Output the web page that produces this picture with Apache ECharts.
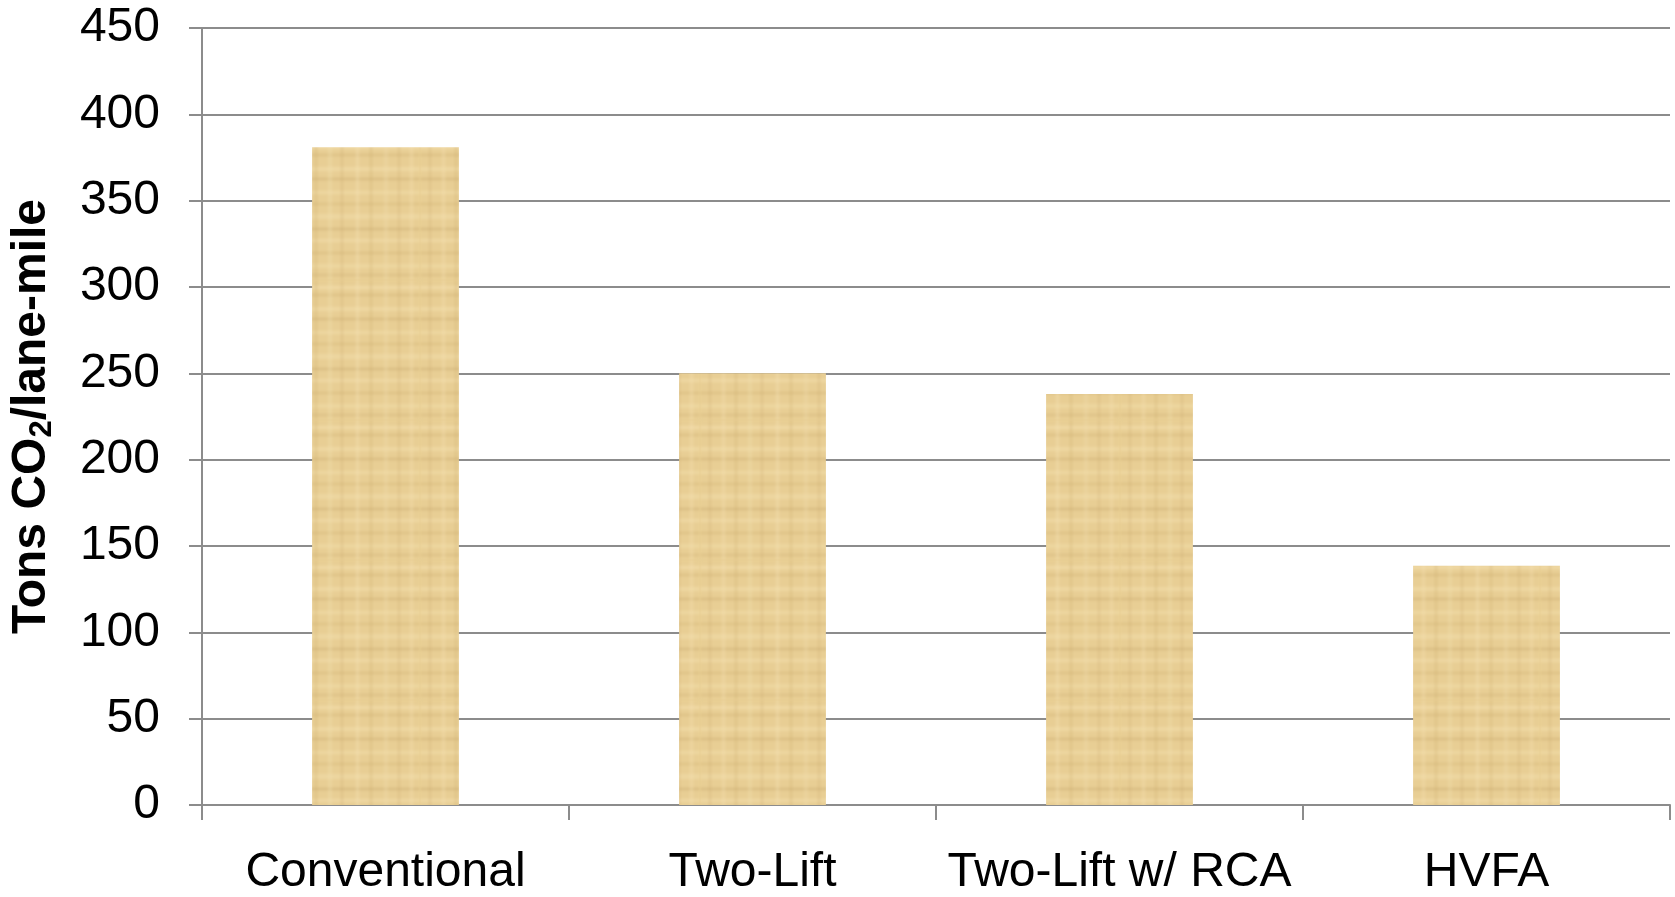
<!DOCTYPE html>
<html>
<head>
<meta charset="utf-8">
<title>Tons CO2 per lane-mile</title>
<script src="https://cdn.jsdelivr.net/npm/echarts@6/dist/echarts.min.js"></script>
<style>
  html, body { margin: 0; padding: 0; background: #ffffff; }
  #chart { width: 1675px; height: 897px; }
</style>
</head>
<body>
<div id="chart"></div>
<script>
// Pavement types and their embodied emissions (tons CO2 per lane-mile)
const categories = ['Conventional', 'Two-Lift', 'Two-Lift w/ RCA', 'HVFA'];
const emissions = [381, 250, 238, 138.5];
const yTicks = { min: 0, max: 450, interval: 50 };

// Woven, parchment-like fill for the bars, drawn once onto a small tile
function makeTexture() {
  const c = document.createElement('canvas');
  c.width = 140; c.height = 140;
  const g = c.getContext('2d');
  g.fillStyle = '#e8ce94';
  g.fillRect(0, 0, 140, 140);
  // horizontal fibres: [y, thickness, colour]
  const rows = [
    [6, 3, 'rgba(246,226,178,0.55)'], [14, 2, 'rgba(196,164,100,0.35)'],
    [27, 4, 'rgba(244,224,174,0.5)'], [38, 2, 'rgba(190,158,96,0.4)'],
    [51, 3, 'rgba(246,228,180,0.45)'], [63, 2, 'rgba(200,168,104,0.35)'],
    [74, 5, 'rgba(242,222,172,0.5)'], [88, 2, 'rgba(188,156,94,0.4)'],
    [99, 3, 'rgba(246,226,178,0.5)'], [112, 2, 'rgba(196,164,100,0.35)'],
    [124, 4, 'rgba(243,224,174,0.45)'], [134, 2, 'rgba(192,160,98,0.3)']
  ];
  rows.forEach(([y, h, col]) => { g.fillStyle = col; g.fillRect(0, y, 140, h); });
  // vertical fibres: [x, thickness, colour]
  const cols = [
    [9, 2, 'rgba(192,160,100,0.25)'], [22, 3, 'rgba(244,226,178,0.4)'],
    [35, 2, 'rgba(196,166,104,0.3)'], [48, 4, 'rgba(242,224,176,0.35)'],
    [61, 2, 'rgba(190,158,98,0.25)'], [76, 3, 'rgba(246,228,182,0.4)'],
    [90, 2, 'rgba(196,164,102,0.3)'], [104, 4, 'rgba(242,222,172,0.35)'],
    [118, 2, 'rgba(192,160,100,0.25)'], [130, 3, 'rgba(244,226,178,0.4)']
  ];
  cols.forEach(([x, w, col]) => { g.fillStyle = col; g.fillRect(x, 0, w, 140); });
  // soften the fibres
  const out = document.createElement('canvas');
  out.width = 140; out.height = 140;
  const o = out.getContext('2d');
  o.fillStyle = '#e8ce94';
  o.fillRect(0, 0, 140, 140);
  o.filter = 'blur(1.5px)';
  o.drawImage(c, 0, 0);
  return out;
}

const chart = echarts.init(document.getElementById('chart'), null, { renderer: 'canvas' });
const gridColor = '#8c8c8c';
const font = 'Liberation Sans, Arial, sans-serif';

chart.setOption({
  animation: false,
  backgroundColor: '#ffffff',
  grid: { left: 199, right: 5, top: 28, bottom: 92, containLabel: false },
  xAxis: {
    type: 'category',
    data: categories,
    boundaryGap: true,
    axisLine: { show: true, lineStyle: { color: gridColor, width: 2 } },
    axisTick: { show: true, length: 15, lineStyle: { color: gridColor, width: 2 } },
    axisLabel: {
      margin: 44,
      color: '#000000',
      fontFamily: font,
      fontSize: 48,
      interval: 0
    },
    splitLine: { show: false }
  },
  yAxis: {
    type: 'value',
    min: yTicks.min,
    max: yTicks.max,
    interval: yTicks.interval,
    name: '{a|Tons CO}{s|2}{a|/lane-mile}',
    nameLocation: 'middle',
    nameGap: 144,
    nameRotate: 90,
    nameTextStyle: {
      rich: {
        a: { fontFamily: font, fontWeight: 'bold', fontSize: 48, color: '#000000', lineHeight: 52 },
        s: { fontFamily: font, fontWeight: 'bold', fontSize: 31, color: '#000000', lineHeight: 52, verticalAlign: 'bottom', padding: [15, 0, 0, 0] }
      }
    },
    axisLine: { show: true, lineStyle: { color: gridColor, width: 2 } },
    axisTick: { show: true, length: 13, lineStyle: { color: gridColor, width: 2 } },
    axisLabel: {
      margin: 42,
      color: '#000000',
      fontFamily: font,
      fontSize: 48
    },
    splitLine: { show: true, lineStyle: { color: gridColor, width: 2 } }
  },
  series: [{
    type: 'bar',
    data: emissions,
    barWidth: '40%',
    itemStyle: {
      color: { image: makeTexture(), repeat: 'repeat' }
    }
  }]
});
</script>
</body>
</html>
